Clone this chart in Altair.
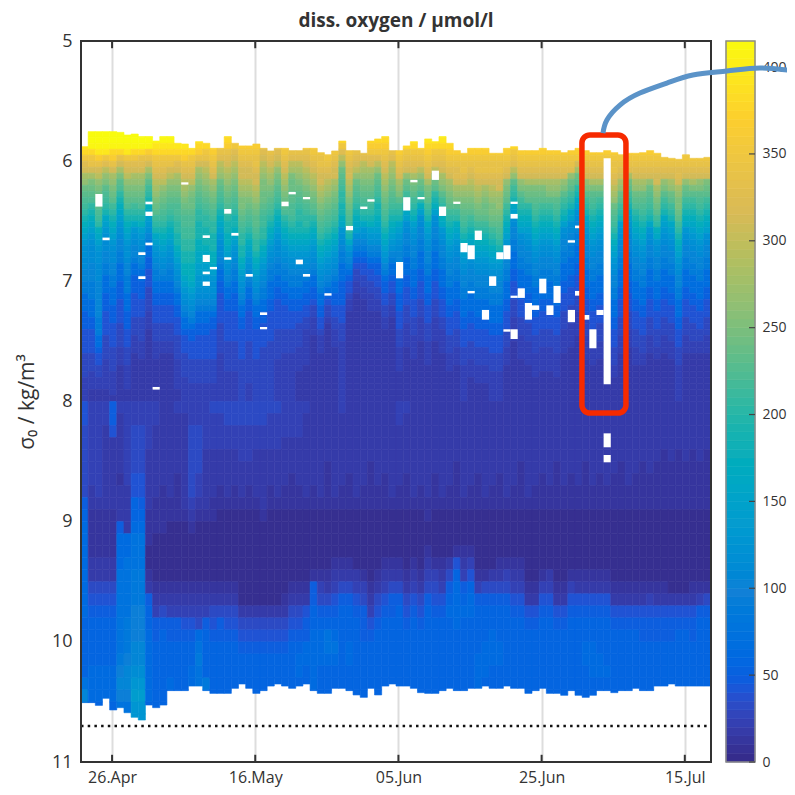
import altair as alt
import pandas as pd

FONT = "Open Sans"
INK = "#333333"

# Colour scale (parula) stops
stop_values = [0, 20, 40, 46, 59, 99, 138, 178, 211, 264, 316, 369, 415]
stop_colors = ["#352a87", "#353dad", "#2053d4", "#0f5cdd", "#0268e1", "#1481d6", "#079ccf",
               "#0faeb9", "#38b99e", "#92bf73", "#d9ba56", "#fcce2e", "#f9fb0e"]

# Letter code -> oxygen value
code_chars = "0123456789abcdefghijklmnopqrstuvwxy"
upper_values = [5, 12, 18, 24, 30, 40, 50, 68, 90, 104, 112, 120, 130, 145, 160, 175, 190, 205, 215,
                222, 230, 240, 250, 265, 280, 295, 312, 325, 338, 350, 365, 380, 395, 410, 415]
lower_values = [5, 12, 18, 24, 32, 40, 48, 56, 64, 75, 85, 95, 105, 115, 128, 140, 155, 170, 185,
                200, 215, 230, 245, 260, 275, 290, 305, 320, 335, 350, 365, 380, 395, 410, 415]

first_day = -4.34  # left edge of the first daily column (day 0 = 26 Apr)

# upper section: one string per day, sigma 5.75-8.00 in 0.05 steps
upper = [
"yxwvtrqonlkjihgfedcbbaa99887776665555444433333",
"yyxvtsqomlkjhgfedcbaaa99988877766555544433322",
"yyxwusqpnmllkjihfedcbbaaa99999988877655443322",
"yyxwtrpnmkjihgedcbaa9988777666555544443333322",
"yyxvusqonmlkihgfedcbaa99887776665555444433332",
"yyxvsqomkjhgfedcba99887776665555444433322222",
"yyxwtrqpnmlkjhgfedcbba9988877766655544433332",
"yyxvtrqonmlkihgecba99877666555544433322222222",
"yyxvsrqonmlkjhgfdcba998776665554444333222222",
"yyxusqomkihgfedcb98776655544443332222222222",
"yxwvtsrqponmlkihgedcba988776655544433322222",
"yxwvtsrqpnmlkjihgfedcba98776655544433222222",
"yxwvtsqpnmlkjihgfedcba988776655544433222222",
"yxwvtrqonmlkjjihhggfedcba98776655544443333322",
"xxwvusrqponmlkjjiihhggffedcba987765554444333",
"xxwvtsrqpnmllkjjiihhggfffedcba98766555444433",
"xwvusqonmlkjihhgggffeeddccba9877665555444433",
"xwvtsqponmlkjihhgggfeeddcbba98776655554444333",
"xwvutsrqonmlkjihhgggffedcbba987665555544443",
"wvtsrponlkjihgfedcbaa98776655555444443333",
"wvusrqponmlkjihggffedcba98776655555444443333",
"wvtrqponmlkjihggfedcba98877666555554444433",
"wvutsrqqponmmlkjihhggfedcba9877665555544444",
"wvutsrqqponmlkjihgfedcba9877665555544444443",
"wvutssrqqponmlkkjihhgfedcba987766555554444",
"wvtrqponmmllkjiihhgfedcba98877665555444444",
"wvusrqponmlkjihgfedcba98877766555554444444",
"vvtrqpnmlkjihgfedcbaa9887766555554444433",
"vvutsrqponmlkjhgfedcba988776655554444333",
"vvtsrpomllkkjjihgfedcba98877665554444333",
"vvtsrponmlkjihhggfedcba988776655444433332",
"vvusrqponmlkjihhgfedcba9877665544333333222",
"vvutsrqponmlkjhgfedcba98776654433322222222",
"vvutssrqqponmlkjihgfedcba987766554333222222",
"vvvutsrqponmlkjihgfedcba98765443222222222",
"vvutsrqqonmlkjihgfedcba987766554433322222",
"vvtrpnlkjihhggfecba988777666655544433333",
"vvutsrqqponmlkjihgeca9876554332222222222",
"vvtsrqpnlkjihgfedb98765443322222222222",
"vvtsrponmlkjihgecb9876554433222222222",
"wvutrqonmlkjihgfdcb98765544333222222",
"wvutrpnlkjihggfedcb987665544332222",
"wvutsrqponmlkjihgfedcb98766554433222222",
"wvtsrponmlkjihgfedcb9877655443322222",
"xwvutsrqonmkihgedcba99887776665554443333222",
"xwvtsrqnlkihfedba99887776655544433332222",
"xwvtsrqomlkihgfdcba99887776655544433332222",
"xwvtsrpnlkihfdba9988777665554443333222222",
"xwvutsrqomlkihgedcba9988777665554443333222",
"xwvtsrpmlkhgfdba998877766555444333322222",
"xwvtsrqonmkihgfecba99887776655544333322222",
"xwvutsrqonmlkihgfedcba99887776655544433322",
"xwvutsrrqonmkihfedcba9988777665554443332222",
"xwvutssrqonmlkjihgfedcba998877766555444333",
"xwvutsrqponmlkihgfedcba99887776655544433322",
"xwvutssrqponmlkihgfedcba9988777665554443332",
"xwvutssrqonmllkihgfedcba99887776655544433322",
"xwvutssrqponmmlkihgfedcba998877766555444333",
"xwvutssrqqonnmlkjihgedcba99887776655544433",
"xwvutsrqnmlkihgfedcba998877766555444333222",
"xwvtsrpnkihgedba99887776655544433332222222",
"xwvutsrqnmkihgfedba998877766555444333322222",
"xwvutsrqomlkhgfedcba9988777665554443333222",
"xwvutsrqomlkjihgfedcba99887776655544433332",
"xwvutsrqomlkihgfedcba998877766555444333322",
"xwvutsrqonmkihgfedcba998877766555444333322",
"xwvutsrqonmkjihgfedcba99887776655544433332",
"xwvutsrqnmkihgfdba99887776655544433332222",
"xwvutsrnlkihgedba998877766555444333322222",
"xwvutqolkhgedba99887776655544433332222222",
"xwvutsrqnmkihgedcba9988777665554443333222",
"xwvutsrqomkjihgfedcba99887776655544433322",
"xwvutsrqomkihgfedcba998877766555444333222",
"xwvutsrqmlkihgfedcba9988777665554443332222",
"xwvutssrqponlkjihgfedcba998877766555444332",
"xwvutsrqonlkihgdcba9988777665554443332222",
"xwvutsrolkihgedcba99887776655544433322222",
"xwvutsrqonlkjhgfedcba9988777665554443332",
"xwvutsrqonlkjihgfedcba998877766555444332",
"xwvutsrqnlkjihgecba9988777665554443332222",
"xwvutsrqqonmlkihfecba998877766555444332222",
"xwvutsrqnmkihgedcba99887776655544433322222",
"xwvutsrqonlkihgedcba9988777665554443332222",
"xwvutsrrqonmmlkihgfedcba99887776655544433",
"xwvutsrqnlkihgfecba9988777665554443332222",
"xwvutsrqomkihgfedcba998877766555444332222",
"xwvutsrqnmkjihgfedcba99887776655544332222",
"xwvutsrqmlkihgfedba9988777665554443332222",
]

# lower section: one string per day, sigma 8.0-10.7 in 0.1 steps
lower = [
"554444446788888888777779c98", "333333322111122456777788877", "333333332111122456777788877",
"332222222111122456777788877", "665222222111122456777788877", "322222122268889999999abcb99",
"333333322228899999aaabccb99", "33444455778999aaabbbccdefee", "33444455678999aaabbbccdefee",
"333322222111001267788888877", "332222221110000123667777777", "222222211110000124677777777",
"222222221100000123667778777", "322222111100000123667777777", "322222222100000123567777777",
"334444443210000123567788777", "334444332100000123489a99877", "33332222210000012367777a877",
"433322221100000124567777777", "433322211000000124667777777", "443322221000000124567777777",
"443322211000000124567777777", "443332221000000002456777777", "443332211000000002456777777",
"443322221000000002456777777", "443322222100000002456777777", "433322211000000002456777777",
"433322221000000002456777777", "333222211000000012456777777", "333222111000000124567777777",
"333222211000000124567887777", "322222221000000125668877777", "222222211000001667788888777",
"222222221000001346788877777", "222221111000001246799877777", "222222221000012356789877777",
"322222211000012467777777777", "222222111000012467778877777", "222222221000002356777777777",
"222222211000001346667777777", "222221111000000123567777777", "222222211000001245677777777",
"222222111000012356777777777", "222222221000012466777777777", "332222211000012467777777777",
"322222111000001245677777777", "222222221000012356777777777", "222222211000001245677777777",
"222222221100123467777777777", "222222111000013456777777777", "222222221000012356777777777",
"222222211000024678777777777", "222221111000157888877777777", "222222221000123678777777777",
"222222211000135788777777777", "222222111000001367777888777", "222222221000001467778887777",
"222222211000002467788877777", "222222111000012467778877777", "222222221000013467777777777",
"222222211000012356777777777", "222221111000012356777777777", "222222221000000125677777777",
"222222211000000125677777777", "222222111000001356777777777", "222222211000002356777777777",
"222221111000000125677777777", "222222211000000125677777777", "222222111000001356777777777",
"222222211000001256777777777", "222221111000001256778877777", "222222211000001256778887777",
"222222111000001256777887777", "222222211000001256777787777", "222222111000000125677777777",
"222221111000000125677777777", "222222211000000125677777777", "222222111000000125677777777",
"222221111000000125667777777", "222222111000000135667777777", "222221111000000125667777777",
"222211111000000125667777777", "222221111000000025667777777", "222211111000000025677777777",
"222221111000000025677777777", "222211111000000125667777777", "222221111000000136777777777",
"222211111000000146777777777",
]

# shallowest and deepest sigma with data, per day
top_sigma = [
5.879, 5.754, 5.754, 5.754, 5.754, 5.760, 5.782, 5.774, 5.796, 5.796, 5.832, 5.796, 5.796, 5.851, 5.857,
5.893, 5.837, 5.851, 5.893, 5.893, 5.796, 5.851, 5.873, 5.873, 5.857, 5.893, 5.915, 5.893, 5.893, 5.912,
5.912, 5.893, 5.893, 5.929, 5.948, 5.915, 5.832, 5.912, 5.912, 5.934, 5.832, 5.815, 5.796, 5.912, 5.912,
5.873, 5.837, 5.893, 5.815, 5.837, 5.796, 5.851, 5.912, 5.934, 5.893, 5.893, 5.893, 5.934, 5.934, 5.893,
5.879, 5.912, 5.912, 5.912, 5.893, 5.912, 5.912, 5.929, 5.912, 5.893, 5.912, 5.929, 5.929, 5.912, 5.929,
5.948, 5.934, 5.934, 5.929, 5.912, 5.934, 5.968, 5.976, 5.984, 5.948, 5.976, 5.976, 5.968,
]
bottom_sigma = [
10.506, 10.506, 10.529, 10.470, 10.567, 10.548, 10.590, 10.628, 10.651, 10.526, 10.548, 10.526, 10.406,
10.406, 10.406, 10.368, 10.368, 10.406, 10.429, 10.429, 10.429, 10.387, 10.351, 10.387, 10.429, 10.406,
10.368, 10.351, 10.368, 10.387, 10.368, 10.351, 10.406, 10.429, 10.429, 10.387, 10.387, 10.406, 10.442,
10.462, 10.387, 10.442, 10.368, 10.351, 10.368, 10.368, 10.387, 10.423, 10.429, 10.429, 10.406, 10.387,
10.406, 10.406, 10.387, 10.387, 10.368, 10.387, 10.387, 10.368, 10.387, 10.387, 10.429, 10.406, 10.387,
10.429, 10.429, 10.445, 10.406, 10.445, 10.462, 10.445, 10.406, 10.406, 10.423, 10.406, 10.406, 10.387,
10.406, 10.406, 10.368, 10.368, 10.351, 10.368, 10.368, 10.368, 10.368, 10.368,
]

# Missing cells
gap_col = [2, 3, 9, 9, 9, 8, 8, 10, 14, 17, 17, 18, 17, 17, 20, 21, 20, 23, 25, 25, 28, 29, 31, 30, 31, 34, 37, 39,
           40, 44, 45, 46, 47, 49, 50, 52, 55, 53, 54, 58, 59, 60, 60, 57, 54, 61, 60, 64, 66, 56, 62, 63, 65, 68,
           70, 69, 69, 68, 59, 60, 71, 72, 73, 73, 73]
gap_top = [6.273, 6.636, 6.337, 6.420, 6.678, 6.758, 6.958, 7.879, 6.176, 6.617, 6.780, 6.880, 6.919, 7.002, 6.398,
           6.597, 6.800, 6.939, 7.258, 7.380, 6.337, 6.256, 6.298, 6.819, 6.939, 7.099, 6.539, 6.378, 6.317, 6.839,
           6.300, 6.156, 6.298, 6.079, 6.378, 6.337, 6.578, 6.681, 6.700, 6.758, 6.700, 6.337, 6.439, 6.958, 7.080,
           7.058, 7.119, 6.978, 7.038, 7.238, 7.180, 7.200, 7.200, 7.238, 7.280, 7.080, 6.536, 6.658, 7.399, 7.399,
           7.399, 7.238, 5.976, 8.265, 8.445]
gap_bot = [6.378, 6.658, 6.359, 6.456, 6.700, 6.780, 6.980, 7.901, 6.195, 6.639, 6.839, 6.900, 6.941, 7.038, 6.437,
           6.620, 6.820, 6.961, 7.280, 7.399, 6.375, 6.276, 6.317, 6.858, 6.961, 7.119, 6.575, 6.398, 6.337, 6.975,
           6.411, 6.176, 6.317, 6.156, 6.456, 6.356, 6.656, 6.758, 6.816, 6.816, 6.816, 6.356, 6.478, 7.038, 7.100,
           7.138, 7.138, 7.100, 7.180, 7.319, 7.319, 7.238, 7.280, 7.340, 7.319, 7.119, 6.558, 6.678, 7.419, 7.480,
           7.557, 7.280, 7.857, 8.381, 8.506]

date_ticks = [0, 20, 40, 60, 80]
date_labels = ["26.Apr", "16.May", "05.Jun", "25.Jun", "15.Jul"]
sigma_ticks = [5, 6, 7, 8, 9, 10, 11]
colorbar_ticks = [0, 50, 100, 150, 200, 250, 300, 350, 400]
colorbar_top = 415
colorbar_step = 5
reference_sigma = 10.7

# Annotation
box_day = [65.63, 71.78]
box_sigma = [5.782, 8.096]
curve_day = [68.57, 69.12, 70.94, 73.73, 77.5, 81.13, 85.88, 90.49, 95.38]
curve_sigma = [5.766, 5.657, 5.533, 5.433, 5.350, 5.283, 5.250, 5.225, 5.250]

# Build the cell table
UP_N, LOW_N = 45, 27
edges = [5.75 + 0.05 * k for k in range(UP_N)] + [8.0 + 0.1 * k for k in range(LOW_N + 1)]
up_lookup = dict(zip(code_chars, upper_values))
low_lookup = dict(zip(code_chars, lower_values))
rows = []
for i, (u, l) in enumerate(zip(upper, lower)):
    vals = [up_lookup[c] for c in (u + u[-1] * UP_N)[:UP_N]] + [low_lookup[c] for c in (l + l[-1] * LOW_N)[:LOW_N]]
    for j, v in enumerate(vals):
        s0 = max(edges[j], top_sigma[i])
        s1 = min(edges[j + 1], bottom_sigma[i])
        if s1 > s0:
            rows.append({"d0": first_day + i, "d1": first_day + i + 1, "s0": s0, "s1": s1, "v": v})
cells = pd.DataFrame(rows)

gaps = pd.DataFrame({"d0": [first_day + c for c in gap_col], "d1": [first_day + c + 1 for c in gap_col],
                     "s0": gap_top, "s1": gap_bot})
bar_lo = list(range(0, colorbar_top, colorbar_step))
bar = pd.DataFrame({"lo": bar_lo, "hi": [min(v + colorbar_step, colorbar_top) for v in bar_lo],
                    "v": [v + colorbar_step / 2 for v in bar_lo]})

W, H = 630, 721
label_expr = " : ".join(f"datum.value == {k} ? '{v}'" for k, v in zip(date_ticks, date_labels)) + " : ''"
xscale = alt.Scale(domain=[first_day, first_day + 88], nice=False, zero=False)
yscale = alt.Scale(domain=[11, 5], nice=False, zero=False)
cscale = alt.Scale(domain=stop_values, range=stop_colors)

x_axis = alt.Axis(values=date_ticks, labelExpr=label_expr, title=None, grid=True, gridColor="#dddddd", gridWidth=2,
                  domain=False, ticks=False, labelPadding=7, labelFont=FONT, labelFontSize=16, labelColor=INK,
                  labelFontWeight=500)
y_axis = alt.Axis(values=sigma_ticks, title="σ₀ / kg/m³", grid=False, domain=False, ticks=False, labelPadding=9,
                  labelFont=FONT, labelFontSize=18, labelColor=INK, labelFontWeight=500, titleFont=FONT,
                  titleFontSize=21, titleColor=INK, titleFontWeight="normal", titlePadding=14, format="d")


def X(f):
    return alt.X(f"{f}:Q", scale=xscale, axis=x_axis)


def Y(f, axis=None):
    return alt.Y(f"{f}:Q", scale=yscale, axis=axis)


heat = alt.Chart(cells).mark_rect(strokeWidth=0.6, opacity=1).encode(
    x=X("d0"), x2="d1", y=Y("s0", y_axis), y2="s1",
    color=alt.Color("v:Q", scale=cscale, legend=None),
    stroke=alt.Stroke("v:Q", scale=cscale, legend=None),
)
holes = alt.Chart(gaps).mark_rect(color="white").encode(x=X("d0"), x2="d1", y=Y("s0"), y2="s1")
dots = alt.Chart(pd.DataFrame({"d0": [first_day], "d1": [first_day + 88], "s": [reference_sigma]})).mark_rule(
    color="#111111", strokeWidth=2.5, strokeDash=[2.5, 4.2]).encode(x=X("d0"), x2="d1", y=Y("s"))
tick_rows = pd.DataFrame({"d": date_ticks * 2, "s0": [5.0] * 5 + [10.94] * 5, "s1": [5.06] * 5 + [11.0] * 5})
date_marks = alt.Chart(tick_rows).mark_rule(color=INK, strokeWidth=2).encode(x=X("d"), y=Y("s0"), y2="s1")
frame = alt.Chart(pd.DataFrame({"d0": [first_day], "d1": [first_day + 88], "s0": [5], "s1": [11]})).mark_rect(
    fillOpacity=0, stroke=INK, strokeWidth=2).encode(x=X("d0"), x2="d1", y=Y("s0"), y2="s1")

bscale = alt.Scale(domain=[0, colorbar_top], nice=False, zero=False)
bar_axis = alt.Axis(orient="right", values=colorbar_ticks, title=None, grid=False, domain=False, ticks=False, offset=45,
                    labelPadding=6, labelFont=FONT, labelFontSize=14, labelColor=INK, labelFontWeight=500, format="d")
bar_rect = alt.Chart(bar).mark_rect(strokeWidth=0.6, opacity=1).encode(
    x=alt.value(645), x2=alt.value(674), y=alt.Y("lo:Q", scale=bscale, axis=bar_axis), y2="hi",
    color=alt.Color("v:Q", scale=cscale, legend=None),
    stroke=alt.Stroke("v:Q", scale=cscale, legend=None),
)
bar_frame = alt.Chart(pd.DataFrame({"lo": [0], "hi": [colorbar_top]})).mark_rect(
    fillOpacity=0, stroke="#8a8a8a", strokeWidth=1.5).encode(
    x=alt.value(645), x2=alt.value(674), y=alt.Y("lo:Q", scale=bscale, axis=None), y2="hi")
bar_ticks = alt.Chart(pd.DataFrame({"t": colorbar_ticks})).mark_rule(color="#444444", strokeWidth=1.2).encode(
    x=alt.value(668), x2=alt.value(674), y=alt.Y("t:Q", scale=bscale, axis=None))

red_box = alt.Chart(pd.DataFrame({"d0": [box_day[0]], "d1": [box_day[1]], "s0": [box_sigma[0]], "s1": [box_sigma[1]]})
                    ).mark_rect(fillOpacity=0, stroke="#f62a00", strokeWidth=5.5, cornerRadius=8).encode(
    x=X("d0"), x2="d1", y=Y("s0"), y2="s1")
curve = alt.Chart(pd.DataFrame({"d": curve_day, "s": curve_sigma})).mark_line(
    color="#5b93c8", strokeWidth=5, interpolate="natural", clip=False).encode(
    x=alt.X("d:Q", scale=xscale, axis=x_axis, sort=None), y=Y("s"))

chart = alt.layer(heat, holes, dots, date_marks, frame, bar_rect, bar_frame, bar_ticks, red_box, curve).resolve_scale(
    y="independent"
).properties(
    width=W, height=H,
    title=alt.TitleParams("diss. oxygen / μmol/l", font=FONT, fontSize=19, fontWeight="bold", color=INK, offset=1),
    padding={"left": 73, "top": 33, "right": 76, "bottom": 25},
    autosize=alt.AutoSizeParams(type="none"),
).configure_view(stroke=None)

chart.save("out.html", embed_options={"renderer": "svg", "actions": False})
